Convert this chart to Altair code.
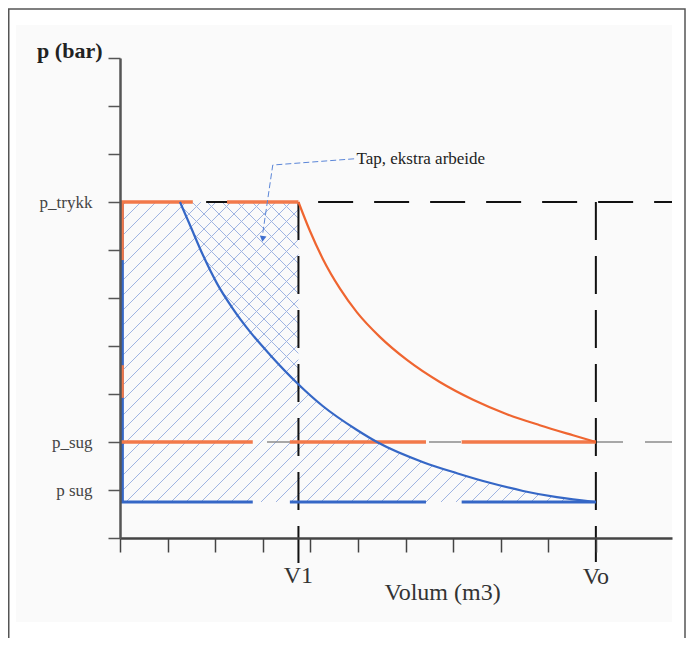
import altair as alt
import numpy as np
import pandas as pd

# ---------------- data ----------------
V1 = 3.75          # volume V1
VO = 10.0          # volume Vo
P_TRYKK = 7.0      # discharge pressure
P_SUG = 2.0        # ideal suction pressure
P_SUG_REAL = 0.75  # real suction pressure (blue)

# ideal compression curve (orange): Vo,p_sug -> V1,p_trykk
orange_v = [3.75, 3.99, 4.26, 4.62, 4.98, 5.46, 6.03, 6.72, 7.42, 8.13, 8.82, 9.52, 10.0]
orange_p = [7.00, 6.40, 5.82, 5.20, 4.70, 4.19, 3.71, 3.25, 2.88, 2.58, 2.35, 2.14, 2.00]

# real compression curve (blue)
blue_v = [1.26, 1.47, 1.74, 2.04, 2.37, 2.73, 3.15, 3.72, 4.26, 4.98, 5.40, 6.37, 7.08, 7.77, 8.47, 9.18, 10.0]
blue_p = [7.00, 6.52, 5.90, 5.30, 4.78, 4.30, 3.82, 3.23, 2.75, 2.25, 2.00, 1.58, 1.35, 1.15, 0.98, 0.85, 0.75]

# drawn pieces of the long-dashed coloured lines (start, end)
orange_top_pieces = [(0.0, 1.53), (2.25, 3.75)]
orange_sug_pieces = [(0.0, 2.79), (3.57, 6.43), (7.18, 10.0)]
blue_sug_pieces = [(0.0, 2.79), (3.57, 6.43), (7.18, 10.0)]
orange_axis_pieces = [(7.0, 5.79), (3.60, 2.92)]

y_tick_vals = [1, 2, 7]
y_tick_labels = ["p sug", "p_sug", "p_trykk"]
x_labels = ["V1", "Vo"]
x_label_pos = [V1, VO]

annot_text = "Tap, ekstra arbeide"
leader_x = [4.92, 3.21, 3.00]
leader_y = [7.90, 7.77, 6.35]

X_MAX = 11.6
ORANGE = "#f2794a"
ORANGE_C = "#ef6530"
BLUE = "#3567c6"
HATCH = "#9fb4e2"
FONT = "Liberation Serif"

# ---------------- hatch texture (decoration) ----------------
W, H = 552, 480
sx, sy = W / X_MAX, H / 10.0


def blue_at(x):
    b = np.interp(x, blue_v, blue_p)
    return np.where(x < blue_v[0], 99.0, b)


def seg_rows(mask, x, y, fam):
    idx = np.nonzero(mask)[0]
    if len(idx) < 2:
        return None
    a, b = idx[0], idx[-1]
    return dict(x=x[a], y=y[a], x2=x[b], y2=y[b], fam=fam)


hatch = []
v = np.arange(P_SUG_REAL * sy, P_TRYKK * sy + 0.01, 0.2)
for c in np.arange(-P_TRYKK * sy, VO * sx, 15.0) + 6:
    u = c + v
    x, y = u / sx, v / sy
    top = np.where(x <= V1, P_TRYKK, np.interp(x, blue_v, blue_p))
    m = (x >= 0) & (x <= VO) & (y >= P_SUG_REAL) & (y <= top)
    r = seg_rows(m, x, y, "a")
    if r:
        hatch.append(r)
for c in np.arange(0, V1 * sx + P_TRYKK * sy, 15.0) + 3:
    u = c - v
    x, y = u / sx, v / sy
    m = (x <= V1) & (y <= P_TRYKK) & (y >= blue_at(x))
    r = seg_rows(m, x, y, "b")
    if r:
        hatch.append(r)
hatch_df = pd.DataFrame(hatch)

# ---------------- tables ----------------
segs = []
segs.append(dict(x=0.05, x2=0.05, y=P_SUG_REAL, y2=P_TRYKK, col=BLUE, w=3))
for a, b in orange_axis_pieces:
    segs.append(dict(x=0.05, x2=0.05, y=a, y2=b, col=ORANGE, w=3))
for a, b in orange_top_pieces:
    segs.append(dict(x=a, x2=b, y=P_TRYKK, y2=P_TRYKK, col=ORANGE, w=3.5))
for a, b in orange_sug_pieces:
    segs.append(dict(x=a, x2=b, y=P_SUG, y2=P_SUG, col=ORANGE, w=3.5))
for a, b in blue_sug_pieces:
    segs.append(dict(x=a, x2=b, y=P_SUG_REAL, y2=P_SUG_REAL, col=BLUE, w=3))
segs_df = pd.DataFrame(segs)

curves_df = pd.concat([
    pd.DataFrame({"x": orange_v, "y": orange_p, "s": "ideal", "i": range(len(orange_v))}),
    pd.DataFrame({"x": blue_v, "y": blue_p, "s": "real", "i": range(len(blue_v))}),
])

xs = alt.Scale(domain=[0, X_MAX], nice=False, zero=False)
ys = alt.Scale(domain=[0, 10], nice=False, zero=False)

label_expr = " : ".join(
    [f"datum.value == {v_} ? '{l_}'" for v_, l_ in zip(y_tick_vals, y_tick_labels)]
) + " : ''"

y_axis = alt.Axis(
    values=list(range(11)), labelExpr=label_expr, grid=False, zindex=1,
    tickSize=12, tickWidth=1.5, tickColor="#555", domainColor="#555", domainWidth=2.5,
    labelFont=FONT, labelFontSize=17, labelColor="#444", labelPadding=16,
    title="p (bar)", titleAngle=0, titleAlign="right", titleBaseline="alphabetic",
    titleX=-18, titleY=-1, titleFont=FONT, titleFontSize=22, titleFontWeight="bold",
    titleColor="#222",
)
x_axis = alt.Axis(
    values=list(range(11)), labels=False, grid=False, zindex=1,
    tickSize=14, tickWidth=1.5, tickColor="#444", domainColor="#444", domainWidth=2.5,
    title="Volum (m3)", titleAlign="center", titleBaseline="alphabetic",
    titleX=322, titleY=61, titleFont=FONT, titleFontSize=24, titleFontWeight="normal",
    titleColor="#333",
)


def X(f="x"):
    return alt.X(f"{f}:Q", scale=xs, axis=x_axis)


def Y(f="y"):
    return alt.Y(f"{f}:Q", scale=ys, axis=y_axis)


one = pd.DataFrame({"a": [0]})

frame = alt.Chart(one).mark_rect(fill="white", stroke="#555", strokeWidth=1.5).encode(
    x=alt.value(-111.25), x2=alt.value(565), y=alt.value(-49), y2=alt.value(700)
)
inner = alt.Chart(one).mark_rect(fill="#fafafa").encode(
    x=alt.value(-104), x2=alt.value(552), y=alt.value(-33), y2=alt.value(564)
)

hatch_layer = alt.Chart(hatch_df).mark_rule(color=HATCH, strokeWidth=1).encode(
    x=X(), x2="x2:Q", y=Y(), y2="y2:Q",
)

gray_df = pd.DataFrame({"x": [0.0], "x2": [X_MAX], "y": [P_SUG], "y2": [P_SUG]})
gray = alt.Chart(gray_df).mark_rule(
    color="#8c8c8c", strokeWidth=1.5, strokeDash=[32, 22], strokeDashOffset=15
).encode(x=X(), x2="x2:Q", y=Y(), y2="y2:Q")

hdash_df = pd.DataFrame({"x": [1.81], "x2": [X_MAX], "y": [P_TRYKK], "y2": [P_TRYKK]})
hdash = alt.Chart(hdash_df).mark_rule(color="#111", strokeWidth=2, strokeDash=[35, 21]).encode(
    x=X(), x2="x2:Q", y=Y(), y2="y2:Q",
)
vdash_df = pd.DataFrame({"x": [V1, VO], "y": [P_TRYKK, P_TRYKK], "y2": [-0.52, -0.5]})
vdash = alt.Chart(vdash_df).mark_rule(color="#111", strokeWidth=2, strokeDash=[38, 16]).encode(
    x=X(), y=Y(), y2="y2:Q",
)

solid = alt.Chart(segs_df).mark_rule().encode(
    x=X(), x2="x2:Q", y=Y(), y2="y2:Q",
    color=alt.Color("col:N", scale=None),
    strokeWidth=alt.StrokeWidth("w:Q", scale=None),
)

curves = alt.Chart(curves_df).mark_line(strokeWidth=2.2, interpolate="monotone").encode(
    x=X(), y=Y(),
    color=alt.Color("s:N", scale=alt.Scale(domain=["ideal", "real"], range=[ORANGE_C, BLUE]), legend=None),
    order="i:Q",
)

leader_df = pd.DataFrame({"x": leader_x, "y": leader_y, "i": range(len(leader_x))})
leader = alt.Chart(leader_df).mark_line(color="#5b86d8", strokeWidth=1, strokeDash=[6, 3]).encode(
    x=X(), y=Y(), order="i:Q",
)
arrow_df = pd.DataFrame({"x": [leader_x[-1]], "y": [leader_y[-1] - 0.12]})
arrow = alt.Chart(arrow_df).mark_point(
    shape="triangle-down", filled=True, size=45, color="#3f6fd0", opacity=1, angle=8
).encode(x=X(), y=Y())
annot_df = pd.DataFrame({"x": [leader_x[0] + 0.05], "y": [leader_y[0]], "t": [annot_text]})
annot = alt.Chart(annot_df).mark_text(
    align="left", baseline="middle", font=FONT, fontSize=17, color="#222"
).encode(x=X(), y=Y(), text="t:N")

vlab_df = pd.DataFrame({"x": x_label_pos, "y": [-0.79, -0.81], "t": x_labels})
vlab = alt.Chart(vlab_df).mark_text(
    align="center", baseline="middle", font=FONT, fontSize=24, color="#333"
).encode(x=X(), y=Y(), text="t:N")

chart = alt.layer(
    frame, inner, hatch_layer, gray, hdash, vdash, solid, curves, leader, arrow, annot, vlab
).properties(
    width=W, height=H,
    autosize="none",
    padding={"left": 112, "top": 50, "right": 14, "bottom": 100},
    background="white",
).configure_view(stroke=None).configure(font=FONT)

chart.save("out.html", embed_options={"renderer": "svg", "actions": False})
